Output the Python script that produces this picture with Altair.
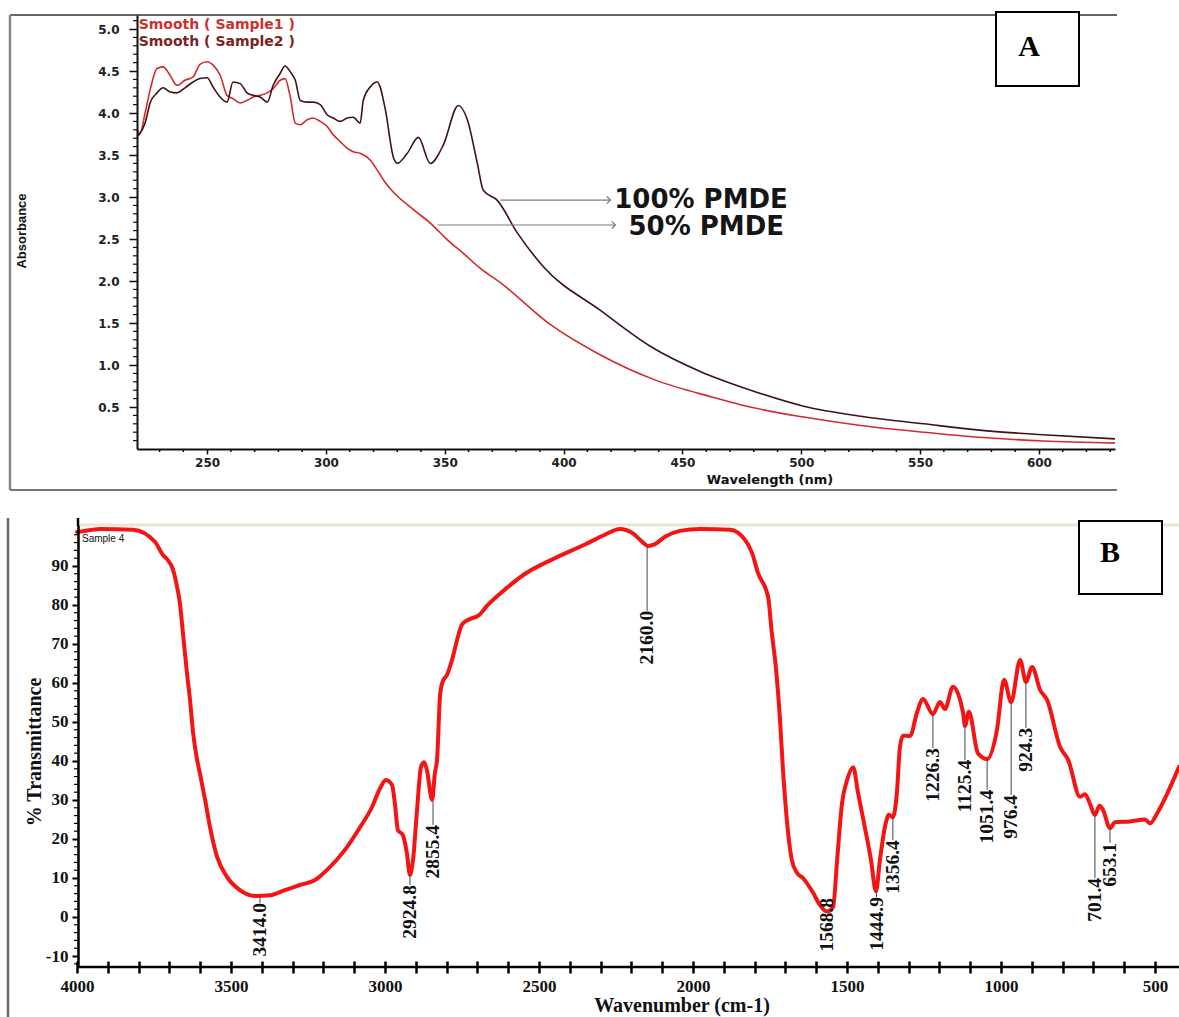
import altair as alt
import pandas as pd

W, H = 1179, 1017

# ---------------- Panel A (UV-Vis) data ----------------
a_series_names = ["Smooth ( Sample1 )", "Smooth ( Sample2 )"]
a_series_colors = ["#d42a2a", "#3f1313"]
a_legend_colors = ["#cc3030", "#7a2424"]

a_s1_wavelength = [220.5, 221.8, 223.9, 226.0, 228.9, 231.5, 234.4, 237.3, 240.7, 244.1,
                   247.0, 250.0, 252.5, 255.5, 258.4, 260.9, 263.9, 266.8, 269.4, 272.3,
                   275.3, 277.8, 280.7, 282.8, 285.0, 287.1, 289.2, 292.1, 294.6, 297.6,
                   300.5, 303.1, 306.0, 309.0, 311.5, 314.4, 318.6, 321.6, 325.0, 328.3,
                   336.8, 343.9, 351.1, 357.8, 365.0, 373.4, 394.5, 415.5, 438.7, 462.3,
                   480.0, 501.0, 525.0, 551.6, 575.0, 601.7, 632.0]
a_s1_absorbance = [3.80, 3.76, 4.00, 4.27, 4.53, 4.55, 4.45, 4.33, 4.39, 4.43,
                   4.58, 4.61, 4.57, 4.45, 4.21, 4.17, 4.12, 4.15, 4.19, 4.21,
                   4.24, 4.29, 4.39, 4.41, 4.19, 3.88, 3.86, 3.92, 3.94, 3.90,
                   3.84, 3.74, 3.66, 3.58, 3.54, 3.52, 3.44, 3.32, 3.17, 3.06,
                   2.85, 2.69, 2.49, 2.33, 2.15, 1.98, 1.48, 1.12, 0.82, 0.62,
                   0.49, 0.38, 0.28, 0.20, 0.14, 0.095, 0.07]

a_s2_wavelength = [220.5, 221.8, 223.9, 226.0, 228.9, 231.5, 234.4, 237.3, 240.7, 244.1,
                   247.0, 250.0, 252.5, 255.5, 258.4, 260.9, 263.9, 266.8, 269.4, 272.3,
                   275.3, 277.8, 280.7, 282.8, 285.0, 287.1, 289.2, 292.1, 294.6, 297.6,
                   300.5, 303.1, 306.0, 309.0, 311.5, 314.4, 315.7, 318.6, 321.6, 325.0,
                   328.3, 330.0, 334.2, 338.9, 343.9, 349.4, 355.7, 359.5, 363.7, 366.2,
                   372.1, 380.6, 391.5, 415.5, 436.6, 457.7, 478.7, 501.0, 525.0, 551.6,
                   575.0, 601.7, 632.0]
a_s2_absorbance = [3.72, 3.76, 3.88, 4.12, 4.24, 4.30, 4.25, 4.24, 4.30, 4.37,
                   4.41, 4.42, 4.31, 4.19, 4.13, 4.37, 4.35, 4.24, 4.21, 4.19,
                   4.13, 4.33, 4.47, 4.56, 4.49, 4.39, 4.15, 4.13, 4.13, 4.10,
                   3.98, 3.94, 3.90, 3.94, 3.95, 3.88, 4.15, 4.31, 4.37, 4.04,
                   3.48, 3.40, 3.52, 3.71, 3.40, 3.62, 4.09, 3.92, 3.40, 3.08,
                   2.96, 2.57, 2.17, 1.65, 1.22, 0.92, 0.70, 0.51, 0.39, 0.30,
                   0.225, 0.17, 0.12]

a_x_ticks = [250, 300, 350, 400, 450, 500, 550, 600]
a_y_ticks = [0.5, 1.0, 1.5, 2.0, 2.5, 3.0, 3.5, 4.0, 4.5, 5.0]
a_x_minor = [v for v in range(230, 631, 10) if v % 50 != 0]
a_y_minor = [round(0.1 * k, 1) for k in range(1, 52) if k % 5 != 0]

a_annot_text = ["100% PMDE", "50% PMDE"]
a_annot_from = [373.4, 346.9]
a_annot_to = [419.7, 421.8]
a_annot_y = [2.964, 2.667]
a_annot_text_x = [421.3, 427.3]
a_annot_text_y = [2.964, 2.643]

# ---------------- Panel B (FTIR) data ----------------
b_wavenumber = [4000, 3990, 3925, 3818, 3747, 3721, 3705, 3688, 3675, 3666,
                3656, 3643, 3633, 3623, 3610, 3601, 3584, 3568, 3545, 3513,
                3471, 3422, 3373, 3325, 3276, 3227, 3179, 3130, 3081, 3042,
                3016, 2997, 2977, 2968, 2958, 2942, 2929, 2919, 2909, 2896,
                2883, 2873, 2864, 2847, 2838, 2831, 2821, 2812, 2799, 2782,
                2766, 2750, 2724, 2698, 2666, 2610, 2545, 2448, 2351, 2286,
                2237, 2198, 2162, 2146, 2123, 2091, 2042, 1977, 1880, 1831,
                1808, 1789, 1756, 1744, 1731, 1718, 1708, 1698, 1679, 1662,
                1643, 1610, 1588, 1565, 1545, 1532, 1516, 1500, 1480, 1464,
                1442, 1422, 1406, 1393, 1377, 1364, 1351, 1338, 1328, 1318,
                1295, 1273, 1253, 1221, 1198, 1182, 1156, 1123, 1117, 1104,
                1075, 1045, 1013, 990, 967, 938, 919, 899, 873, 850,
                808, 782, 743, 727, 711, 695, 680, 669, 646, 630,
                581, 532, 516, 490, 461, 422]
b_transmittance = [98.7, 98.8, 99.5, 99.3, 96.2, 92.8, 91.5, 89.0, 84.6, 80.5,
                   72.8, 62.6, 55.6, 47.2, 40.3, 36.9, 30.0, 23.0, 15.4, 10.3,
                   6.9, 5.4, 5.6, 6.9, 8.2, 9.5, 12.8, 17.2, 23.0, 28.2,
                   33.0, 35.1, 33.8, 29.2, 22.3, 21.0, 16.4, 10.8, 14.6, 27.4,
                   38.5, 39.7, 37.7, 30.0, 36.9, 40.3, 57.0, 60.5, 62.0, 66.0,
                   71.0, 75.0, 76.4, 77.2, 80.0, 84.0, 88.0, 92.0, 95.5, 98.0,
                   99.5, 98.5, 96.0, 95.1, 95.6, 97.5, 99.0, 99.5, 99.3, 96.7,
                   93.3, 88.2, 82.0, 72.8, 64.1, 51.3, 38.0, 27.4, 14.6, 11.3,
                   10.0, 6.2, 3.1, 1.4, 2.6, 14.6, 29.2, 35.0, 38.4, 31.8,
                   23.0, 14.6, 6.6, 14.6, 23.0, 26.2, 25.6, 31.8, 43.6, 46.5,
                   46.4, 52.3, 55.9, 52.0, 55.1, 53.3, 59.0, 52.3, 49.0, 52.6,
                   42.0, 40.5, 48.0, 60.8, 55.1, 65.9, 60.3, 64.1, 58.2, 55.6,
                   43.6, 40.3, 30.8, 31.5, 29.0, 26.2, 28.5, 27.5, 22.8, 24.3,
                   24.5, 25.0, 24.0, 27.0, 31.5, 38.5]

b_peak_labels = ["3414.0", "2924.8", "2855.4", "2160.0", "1568.8", "1444.9", "1356.4",
                 "1226.3", "1125.4", "1051.4", "976.4", "924.3", "701.4", "653.1"]
b_peak_pos = [3406, 2919, 2844, 2149, 1565, 1404, 1351, 1221, 1117, 1045, 967, 919, 695, 646]
b_peak_curve = [5.3, 10.8, 29.6, 95.1, 1.4, 6.6, 25.6, 52.0, 49.0, 40.5, 55.1, 60.3, 26.2, 22.8]
b_peak_label_top = [3.6, 8.2, 23.6, 78.5, 4.9, 5.1, 19.7, 43.3, 40.3, 32.6, 31.3, 48.5, 10.0, 19.0]

b_x_ticks = list(range(500, 4001, 100))
b_y_ticks = list(range(-10, 91, 10))
b_y_minor = [v for v in range(-12, 101, 2) if v % 10 != 0]

# ---------------- Scales (explicit pixel ranges on one canvas) ----------------
def xa():
    return alt.Scale(domain=[220.5, 632.0], range=[137, 1115], nice=False, zero=False)

def ya():
    return alt.Scale(domain=[0.0, 5.167], range=[449, 15], nice=False, zero=False)

def xb():
    return alt.Scale(domain=[4000, 422], range=[77, 1179], nice=False, zero=False)

def yb():
    return alt.Scale(domain=[-12.82, 100.5], range=[967, 525], nice=False, zero=False)

one = pd.DataFrame({"k": [0]})

# ---------------- Axes ----------------
axA_x = alt.Axis(orient="bottom", offset=449 - H, values=a_x_ticks, format="d", title=None,
                 grid=False, tickSize=5, tickWidth=1.5, tickColor="#111",
                 domainColor="#111", domainWidth=2, labelFont="DejaVu Sans",
                 labelFontWeight="bold", labelFontSize=12, labelColor="#222",
                 labelPadding=3, labelFlush=False, zindex=1)
axA_y = alt.Axis(orient="left", offset=-137, values=a_y_ticks, format=".1f", title=None,
                 grid=False, tickSize=8, tickWidth=1.5, tickColor="#111",
                 domainColor="#111", domainWidth=2, labelFont="DejaVu Sans",
                 labelFontWeight="bold", labelFontSize=12, labelColor="#222",
                 labelPadding=10, labelFlush=False, zindex=1)
axB_x = alt.Axis(orient="bottom", offset=961 - H, values=b_x_ticks, title=None, grid=False,
                 domain=False, tickSize=12, tickWidth=2.5, tickColor="#000",
                 labelExpr="datum.value % 500 === 0 ? format(datum.value, 'd') : ''",
                 labelFont="Liberation Serif", labelFontWeight="bold", labelFontSize=17,
                 labelColor="#111", labelPadding=5, labelFlush=False, zindex=1)
axB_y = alt.Axis(orient="left", offset=-78, values=b_y_ticks, title=None, grid=False,
                 tickSize=6, tickWidth=2, tickColor="#000", domainColor="#000",
                 domainWidth=2.5,
                 labelExpr="datum.value < 0 ? '-' + format(-datum.value, 'd') : format(datum.value, 'd')",
                 labelFont="Liberation Serif", labelFontWeight="bold", labelFontSize=17,
                 labelColor="#111", labelPadding=4, labelFlush=False, zindex=1)

layers = []

# ---------------- Panel A ----------------
dfA1 = pd.DataFrame({"wl": a_s1_wavelength, "ab": a_s1_absorbance})
dfA2 = pd.DataFrame({"wl": a_s2_wavelength, "ab": a_s2_absorbance})

layers.append(alt.Chart(dfA1).mark_line(color=a_series_colors[0], strokeWidth=1.6,
                                        interpolate="monotone").encode(
    x=alt.X("wl:Q", scale=xa(), axis=axA_x),
    y=alt.Y("ab:Q", scale=ya(), axis=axA_y)))
layers.append(alt.Chart(dfA2).mark_line(color=a_series_colors[1], strokeWidth=1.6,
                                        interpolate="monotone").encode(
    x=alt.X("wl:Q", scale=xa(), axis=None),
    y=alt.Y("ab:Q", scale=ya(), axis=None)))

layers.append(alt.Chart(pd.DataFrame({"v": a_x_minor})).mark_rule(
    color="#111", strokeWidth=1.5).encode(
    x=alt.X("v:Q", scale=xa(), axis=None), y=alt.value(449), y2=alt.value(452)))
layers.append(alt.Chart(pd.DataFrame({"v": a_y_minor})).mark_rule(
    color="#111", strokeWidth=1.2).encode(
    y=alt.Y("v:Q", scale=ya(), axis=None), x=alt.value(133), x2=alt.value(137)))

dfLeg = pd.DataFrame({"name": a_series_names, "x": [221.2, 221.2], "y": [5.05, 4.85],
                      "c": a_legend_colors})
layers.append(alt.Chart(dfLeg).mark_text(
    align="left", baseline="middle", font="DejaVu Sans", fontWeight="bold", fontSize=14).encode(
    x=alt.X("x:Q", scale=xa(), axis=None), y=alt.Y("y:Q", scale=ya(), axis=None),
    text="name:N", color=alt.Color("c:N", scale=None)))

dfArrow = pd.DataFrame({"t": a_annot_text, "x0": a_annot_from, "x1": a_annot_to,
                        "y": a_annot_y, "tx": a_annot_text_x, "ty": a_annot_text_y})
layers.append(alt.Chart(dfArrow).mark_rule(color="#7a7a7a", strokeWidth=1.2).encode(
    x=alt.X("x0:Q", scale=xa(), axis=None), x2="x1:Q",
    y=alt.Y("y:Q", scale=ya(), axis=None)))
layers.append(alt.Chart(dfArrow).mark_point(shape="M-1,-1L0,0L-1,1", filled=False, size=50,
                                            color="#7a7a7a", strokeWidth=1.2, opacity=1).encode(
    x=alt.X("x1:Q", scale=xa(), axis=None), y=alt.Y("y:Q", scale=ya(), axis=None)))
layers.append(alt.Chart(dfArrow).mark_text(align="left", baseline="middle", font="DejaVu Sans",
                                           fontWeight="bold", fontSize=26, color="#151515").encode(
    x=alt.X("tx:Q", scale=xa(), axis=None), y=alt.Y("ty:Q", scale=ya(), axis=None), text="t:N"))

# ---------------- Panel B ----------------
dfB = pd.DataFrame({"wn": b_wavenumber, "t": b_transmittance})
layers.append(alt.Chart(dfB).mark_line(color="#f41414", strokeWidth=4, interpolate="monotone",
                                       strokeJoin="round", strokeCap="round").encode(
    x=alt.X("wn:Q", scale=xb(), axis=axB_x),
    y=alt.Y("t:Q", scale=yb(), axis=axB_y)))

layers.append(alt.Chart(pd.DataFrame({"x0": [4000], "x1": [422], "y": [-12.82]})).mark_rule(
    color="#000", strokeWidth=2.5).encode(
    x=alt.X("x0:Q", scale=xb(), axis=None), x2="x1:Q",
    y=alt.Y("y:Q", scale=yb(), axis=None)))
layers.append(alt.Chart(pd.DataFrame({"v": b_y_minor})).mark_rule(
    color="#000", strokeWidth=1.2).encode(
    y=alt.Y("v:Q", scale=yb(), axis=None), x=alt.value(74), x2=alt.value(78)))

dfPk = pd.DataFrame({"lab": b_peak_labels, "pos": b_peak_pos,
                     "cur": b_peak_curve, "top": b_peak_label_top})
layers.append(alt.Chart(dfPk[dfPk["cur"] > dfPk["top"] + 0.5]).mark_rule(
    color="#444", strokeWidth=1).encode(
    x=alt.X("pos:Q", scale=xb(), axis=None),
    y=alt.Y("cur:Q", scale=yb(), axis=None), y2="top:Q"))
layers.append(alt.Chart(dfPk).mark_text(angle=270, align="right", baseline="middle",
                                        font="Liberation Serif", fontWeight="bold",
                                        fontSize=19.5, color="#111").encode(
    x=alt.X("pos:Q", scale=xb(), axis=None), y=alt.Y("top:Q", scale=yb(), axis=None),
    text="lab:N"))

# ---------------- Decorations (frames, titles, panel letters) ----------------
def vrule(x, y0, y1, color, w):
    return alt.Chart(one).mark_rule(color=color, strokeWidth=w).encode(
        x=alt.value(x), y=alt.value(y0), y2=alt.value(y1))

def hrule(y, x0, x1, color, w):
    return alt.Chart(one).mark_rule(color=color, strokeWidth=w).encode(
        y=alt.value(y), x=alt.value(x0), x2=alt.value(x1))

def label(txt, x, y, font, size, weight="bold", angle=0, align="center", color="#111"):
    return alt.Chart(one).mark_text(font=font, fontSize=size, fontWeight=weight,
                                    angle=angle, align=align, baseline="middle",
                                    color=color).encode(
        x=alt.value(x), y=alt.value(y), text=alt.value(txt))

def box(x0, x1, y0, y1):
    return alt.Chart(one).mark_rect(fill="white", stroke="#000", strokeWidth=2).encode(
        x=alt.value(x0), x2=alt.value(x1), y=alt.value(y0), y2=alt.value(y1))

layers += [
    hrule(15, 10, 1117, "#666", 2),
    vrule(10, 15, 490, "#888", 2.5),
    hrule(490, 10, 1117, "#777", 2),
    hrule(525, 80, 1179, "#e6e6d6", 3),
    vrule(8, 518, 1017, "#666", 2.5),
    vrule(78, 518, 526, "#000", 2.5),
    label("Absorbance", 22, 231, "Liberation Sans", 13, angle=270),
    label("Wavelength (nm)", 770, 480, "DejaVu Sans", 13),
    label("% Transmittance", 35, 752, "Liberation Serif", 20, angle=270),
    label("Wavenumber (cm-1)", 682, 1006, "Liberation Serif", 20),
    label("Sample 4", 82, 539, "Liberation Sans", 10, weight="normal", align="left"),
    box(996, 1079, 12, 86),
    label("A", 1029, 47, "Liberation Serif", 30, color="#000"),
    box(1079, 1162, 521, 594),
    label("B", 1110, 553, "Liberation Serif", 30, color="#000"),
]

chart = alt.layer(*layers).resolve_scale(
    x="independent", y="independent"
).resolve_axis(
    x="independent", y="independent"
).properties(
    width=W, height=H, padding=0, background="white",
    autosize=alt.AutoSizeParams(type="none")
).configure_view(stroke=None)

chart.save("out.html", embed_options={"renderer": "svg", "actions": False})
